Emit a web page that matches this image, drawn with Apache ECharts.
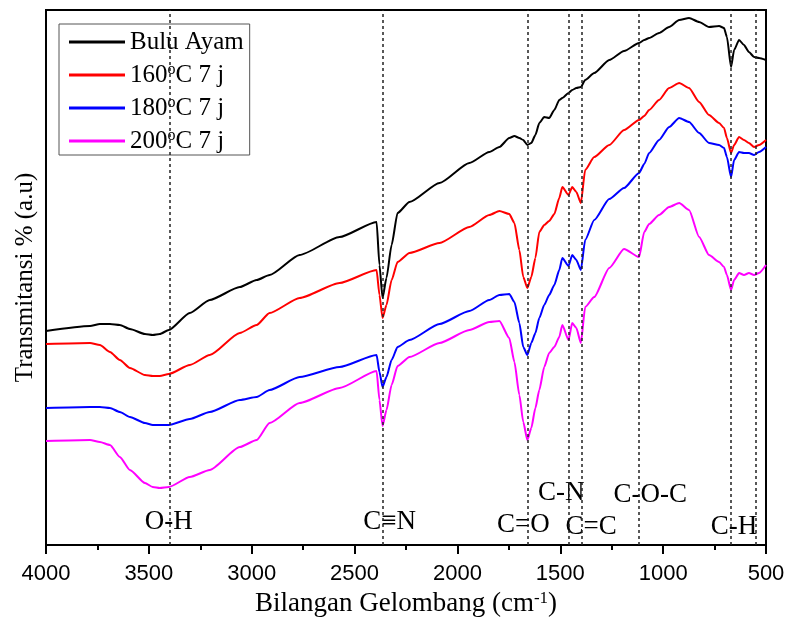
<!DOCTYPE html>
<html>
<head>
<meta charset="utf-8">
<script src="https://cdn.jsdelivr.net/npm/echarts@6/dist/echarts.min.js"></script>
<style>html,body{margin:0;padding:0;background:#fff}#c{width:787px;height:620px}</style>
</head>
<body>
<div id="c"></div>
<script>
// Wavenumber (cm-1)
const wavenumbers = [4000,3786,3738,3689,3641,3592,3519,3481,3447,3403,3301,3204,3058,2976,2913,2767,2573,2393,2379,2364,2345,2320,2291,2233,2087,1942,1845,1796,1748,1723,1699,1680,1660,1641,1621,1602,1578,1554,1529,1505,1490,1460,1442,1422,1400,1379,1335,1262,1190,1117,1092,1068,1020,971,922,874,825,777,728,704,690,670,655,631,607,583,558,534,500];
// Transmittance (a.u.)
const buluAyam = [214,219,221,221,220,216,211,210,211,215,232,245,258,265,270,290,308,323,280,247,267,300,332,343,362,382,393,398,407,409,407,405,400,402,410,422,428,427,435,445,447,452,455,457,458,465,472,485,494,502,505,507,512,518,525,527,523,518,519,517,508,478,495,505,500,493,488,487,485];
const t160 = [201,202,200,193,185,177,170,169,169,171,180,190,212,220,232,247,262,275,250,227,240,265,283,292,302,318,330,334,331,322,295,268,257,268,287,313,320,324,331,347,358,350,358,353,342,375,388,400,415,425,429,435,445,457,462,457,443,430,422,417,407,392,400,408,405,402,398,400,405];
const t180 = [137,138,138,137,133,128,122,120,120,120,126,133,145,148,155,168,178,190,173,158,168,185,198,205,221,234,245,250,251,243,222,198,190,202,212,227,240,250,260,275,287,279,290,285,275,305,325,346,357,372,381,392,405,418,427,423,412,402,400,397,388,368,385,393,392,392,390,393,398];
const t200 = [104,105,103,100,88,75,62,58,57,58,68,75,98,105,122,142,157,174,145,119,135,160,179,188,202,215,223,224,207,183,150,123,105,117,137,155,178,192,198,208,220,205,222,217,202,238,248,277,296,288,313,321,330,338,342,335,308,290,283,278,270,255,265,272,270,272,270,272,280];

const seriesNames = ['Bulu Ayam','160oC 7 j','180oC 7 j','200oC 7 j'];
const seriesColors = ['#000000','#ff0000','#0000ff','#ff00ff'];

// Band assignments
const bandLines = [3400, 2364, 1660, 1461, 1398, 1117, 670, 549];
const bandLabels = ['O-H','C\u2261N','C=O','C-N','C=C','C-O-C','C-H'];
const bandLabelX = [3403, 2330, 1680, 1495, 1350, 1063, 655];
const bandLabelY = [23, 23, 20, 52, 18, 50, 18];

const serif = 'Liberation Serif, Times New Roman, serif';
const chart = echarts.init(document.getElementById('c'), null, {renderer:'canvas'});
const allData = [buluAyam, t160, t180, t200];
const series = allData.map((vals, i) => ({
  name: seriesNames[i],
  type: 'line',
  data: wavenumbers.map((w, k) => [w, vals[k]]),
  showSymbol: false,
  smooth: 0.2,
  smoothMonotone: 'x',
  lineStyle: {color: seriesColors[i], width: 2},
  itemStyle: {color: seriesColors[i]},
  z: 3
}));
series.push({
  name: 'bands',
  type: 'scatter',
  data: bandLabels.map((t, i) => [bandLabelX[i], bandLabelY[i], t]),
  symbolSize: 0,
  itemStyle: {color: '#000', opacity: 1},
  label: {show: true, position: 'inside', formatter: p => p.data[2], fontFamily: serif, fontSize: 27, color: '#000', opacity: 1},
  emphasis: {disabled: true},
  markLine: {
    silent: true,
    symbol: ['none','none'],
    label: {show: false},
    lineStyle: {color: '#222', type: [3,3], width: 1.5},
    data: bandLines.map(v => ({xAxis: v}))
  },
  z: 2
});

chart.setOption({
  animation: false,
  backgroundColor: '#fff',
  grid: {left: 46, right: 21, top: 10, bottom: 75, show: true, borderColor: '#000', borderWidth: 2, backgroundColor: 'transparent', containLabel: false, outerBoundsMode: 'none'},
  legend: {
    data: seriesNames,
    orient: 'vertical',
    left: 59, top: 24,
    itemWidth: 56, itemHeight: 3, itemGap: 7,
    icon: 'rect',
    backgroundColor: '#fff',
    borderColor: '#555', borderWidth: 1,
    padding: [5, 6, 1, 10],
    formatter: function (name) {
      const m = name.match(/^(\d+)o(C.*)$/);
      if (m) return '{t|' + m[1] + '}{s|o}{t|' + m[2] + '}';
      return '{t|' + name + '}';
    },
    textStyle: {
      fontFamily: serif, fontSize: 25, color: '#000', lineHeight: 26,
      rich: {
        t: {fontFamily: serif, fontSize: 25, color: '#000', lineHeight: 26},
        s: {fontFamily: serif, fontSize: 16, color: '#000', verticalAlign: 'top', lineHeight: 22, padding: [0,0,8,0]}
      }
    }
  },
  xAxis: [{
    type: 'value', inverse: true, min: 500, max: 4000, interval: 500,
    axisLine: {lineStyle: {color: '#000', width: 2}},
    axisTick: {show: true, inside: false, length: 9, lineStyle: {color: '#000', width: 2}},
    splitLine: {show: false},
    axisLabel: {fontFamily: 'Liberation Sans, Arial, sans-serif', fontSize: 22, color: '#000', margin: 18, formatter: v => String(v)},
    name: '{a|Bilangan Gelombang (cm}{s|-1}{a|)}',
    nameLocation: 'middle', nameGap: 44,
    nameTextStyle: {
      rich: {
        a: {fontFamily: serif, fontSize: 27, color: '#000'},
        s: {fontFamily: serif, fontSize: 17, color: '#000', verticalAlign: 'top', padding: [0,0,12,0]}
      }
    }
  }, {
    type: 'value', inverse: true, min: 500, max: 4000, interval: 250,
    position: 'bottom', offset: 0,
    axisLine: {show: false},
    axisTick: {show: true, inside: false, length: 5, lineStyle: {color: '#000', width: 2}},
    axisLabel: {show: false},
    splitLine: {show: false}
  }],
  yAxis: {
    type: 'value', min: 0, max: 535,
    axisLine: {show: true, lineStyle: {color: '#000', width: 2}},
    axisTick: {show: false}, axisLabel: {show: false}, splitLine: {show: false},
    name: 'Transmitansi % (a.u)', nameLocation: 'middle', nameGap: 8, nameRotate: 90,
    nameTextStyle: {fontFamily: serif, fontSize: 25, color: '#000'}
  },
  series: series
});
</script>
</body>
</html>
